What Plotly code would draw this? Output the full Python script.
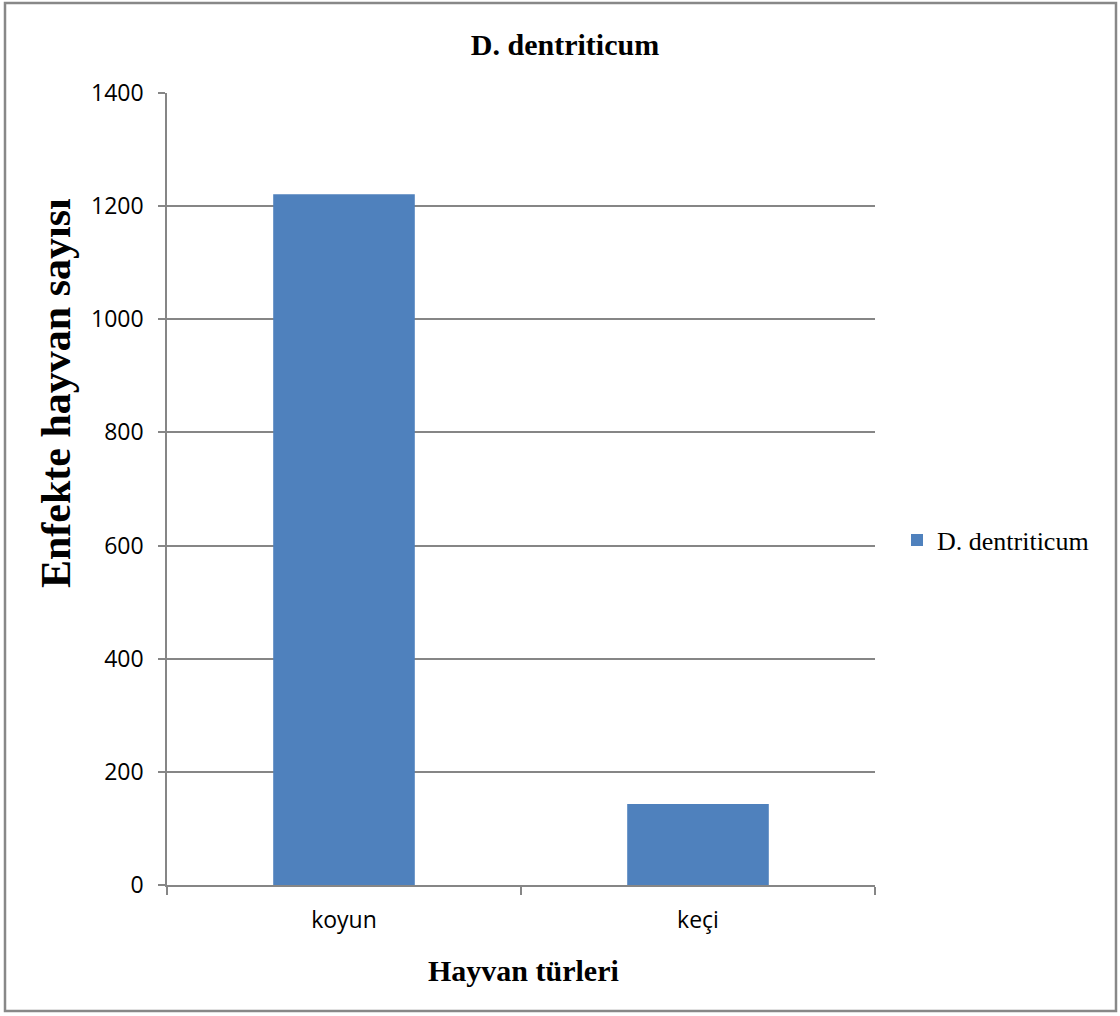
import plotly.graph_objects as go

# Infected animal counts per species
categories = ["koyun", "keçi"]
values = [1221, 143]
series_name = "D. dentriticum"

W, H = 1120, 1016
ML, MR, MT, MB = 167, 245, 93, 131
PW, PH = W - ML - MR, H - MT - MB


def px_x(p):
    return (p - ML) / PW


def px_y(p):
    return (H - MB - p) / PH


fig = go.Figure()
fig.add_trace(go.Bar(
    x=categories, y=values, name=series_name,
    marker=dict(color="#4F81BD", line=dict(width=0)),
    showlegend=True,
))

axis_font = dict(family="Open Sans, Liberation Sans, sans-serif", size=23, color="#000")
serif_bold = "Liberation Serif, Times New Roman, serif"

fig.update_layout(
    width=W, height=H,
    margin=dict(l=ML, r=MR, t=MT, b=MB),
    paper_bgcolor="white", plot_bgcolor="white",
    bargap=0.6,
    title=dict(text="<b>D. dentriticum</b>", x=565 / W, xref="container", xanchor="center",
               y=1 - 44 / H, yref="container", yanchor="middle",
               font=dict(family=serif_bold, size=30, color="#000")),
    xaxis=dict(showline=True, linecolor="#868686", linewidth=1.5,
               ticks="outside", tickson="boundaries", ticklen=8, tickcolor="#868686", tickwidth=1.5,
               tickfont=axis_font, showgrid=False, ticklabelstandoff=14),
    yaxis=dict(range=[0, 1400], dtick=200, showline=True, linecolor="#868686", linewidth=1.5,
               ticks="outside", ticklen=7, tickcolor="#868686", tickwidth=1.5,
               showgrid=True, gridcolor="#868686", gridwidth=1.5, zeroline=False,
               tickfont=axis_font, ticklabelstandoff=10),
    legend=dict(x=px_x(897), y=px_y(540), xanchor="left", yanchor="middle",
                font=dict(family="Liberation Serif, Times New Roman, serif", size=26, color="#000"),
                itemwidth=30, bgcolor="rgba(0,0,0,0)"),
    annotations=[
        dict(text="<b>Enfekte hayvan sayısı</b>", textangle=-90, showarrow=False,
             xref="paper", yref="paper", x=px_x(56), y=px_y(393),
             xanchor="center", yanchor="middle",
             font=dict(family=serif_bold, size=42, color="#000")),
        dict(text="<b>Hayvan türleri</b>", showarrow=False,
             xref="paper", yref="paper", x=px_x(523), y=px_y(970),
             xanchor="center", yanchor="middle",
             font=dict(family=serif_bold, size=30, color="#000")),
    ],
    shapes=[dict(type="rect", xref="paper", yref="paper",
                 x0=px_x(5), x1=px_x(1116), y0=px_y(1011), y1=px_y(3),
                 line=dict(color="#888888", width=2.5), fillcolor="rgba(0,0,0,0)", layer="below")],
)

fig.write_html("out.html")
